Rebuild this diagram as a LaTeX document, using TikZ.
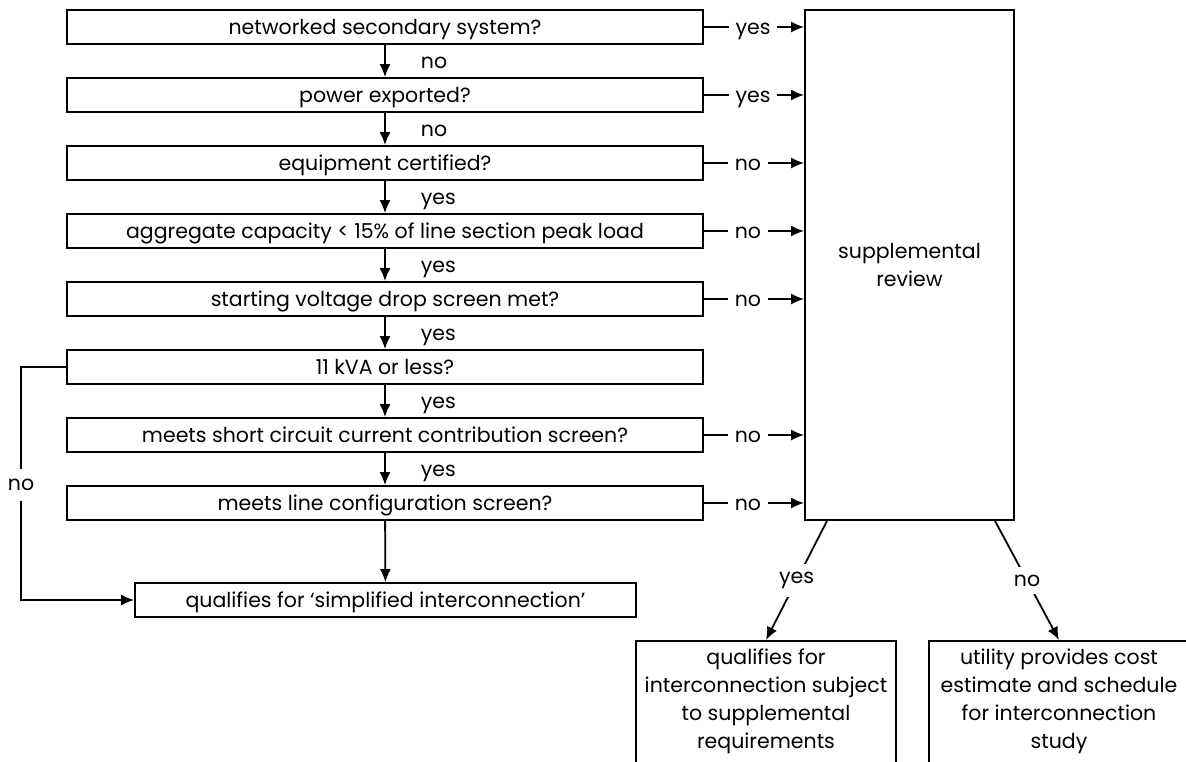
\documentclass[tikz,border=0pt]{standalone}
\usepackage{fontspec}
\setmainfont{Poppins}
\usetikzlibrary{arrows.meta}
\newcommand{\fs}{\fontsize{20.5}{28}\selectfont}
\begin{document}
\begin{tikzpicture}[x=1pt,y=-1pt,
  qbox/.style={draw, line width=1.8pt, minimum width=636pt, minimum height=34pt, inner sep=0pt, font=\fs, text height=17pt, text depth=3pt},
  sbox/.style={draw, line width=1.8pt, inner sep=0pt, font=\fs, align=center},
  arr/.style={line width=1.8pt, -{Latex[length=13pt,width=11pt]}},
  lab/.style={fill=white, inner xsep=7pt, inner ysep=3pt, font=\fs, text height=17pt, text depth=3pt},
  dlab/.style={fill=white, inner xsep=2pt, font=\fs},
  vlab/.style={font=\fs, inner sep=0pt, anchor=west, xshift=35pt, text height=17pt, text depth=3pt},
  txt/.style={font=\fs, align=center, inner sep=0pt}]
\clip (0,0) rectangle (1186,761);
\fill[white] (0,0) rectangle (1186,761);
% main question boxes
\node[qbox] (b1) at (385,27) {networked secondary system?};
\node[qbox] (b2) at (385,95) {power exported?};
\node[qbox] (b3) at (385,163) {equipment certified?};
\node[qbox] (b4) at (385,231) {aggregate capacity < 15\% of line section peak load};
\node[qbox] (b5) at (385,299) {starting voltage drop screen met?};
\node[qbox] (b6) at (385,367) {11 kVA or less?};
\node[qbox] (b7) at (385,435) {meets short circuit current contribution screen?};
\node[qbox] (b8) at (385,503) {meets line configuration screen?};
\node[qbox, minimum width=501pt] (fin) at (385.5,600) {qualifies for ‘simplified interconnection’};
% supplemental review
\node[sbox, minimum width=209pt, minimum height=510pt] (sup) at (909.5,265) {supplemental\\review};
% bottom boxes (open at bottom)
\node[draw, line width=1.8pt, anchor=north, minimum width=260pt, minimum height=160pt] (lb) at (766,640) {};
\node[draw, line width=1.8pt, anchor=north, minimum width=260pt, minimum height=160pt] (rb) at (1059,640) {};
\node[txt, anchor=north] (lbt) at (766,649) {qualifies for\\interconnection subject\\to supplemental\\requirements};
\node[txt, anchor=north] (rbt) at (1059,649) {utility provides cost\\estimate and schedule\\for interconnection\\study};
% vertical flow
\draw[arr] (b1) -- (b2) node[midway, vlab] {no};
\draw[arr] (b2) -- (b3) node[midway, vlab] {no};
\draw[arr] (b3) -- (b4) node[midway, vlab] {yes};
\draw[arr] (b4) -- (b5) node[midway, vlab] {yes};
\draw[arr] (b5) -- (b6) node[midway, vlab] {yes};
\draw[arr] (b6) -- (b7) node[midway, vlab] {yes};
\draw[arr] (b7) -- (b8) node[midway, vlab] {yes};
\draw[arr] (b8) -- (fin);
% no path from 11 kVA
\draw[arr] (b6.west) -- ++(-45,0) |- node[pos=0.253, dlab, inner ysep=10pt] {no} (fin.west);
% to supplemental review
\draw[arr] (b1.east) -- (b1.east -| sup.west) node[lab, pos=0.49] {yes};
\draw[arr] (b2.east) -- (b2.east -| sup.west) node[lab, pos=0.49] {yes};
\draw[arr] (b3.east) -- (b3.east -| sup.west) node[lab, pos=0.44] {no};
\draw[arr] (b4.east) -- (b4.east -| sup.west) node[lab, pos=0.44] {no};
\draw[arr] (b5.east) -- (b5.east -| sup.west) node[lab, pos=0.44] {no};
\draw[arr] (b7.east) -- (b7.east -| sup.west) node[lab, pos=0.44] {no};
\draw[arr] (b8.east) -- (b8.east -| sup.west) node[lab, pos=0.44] {no};
% outcomes of supplemental review
\draw[arr] ([xshift=-82.5pt]sup.south) -- (lb.north) node[dlab, midway, inner ysep=8pt] {yes};
\draw[arr] ([xshift=85.5pt]sup.south) -- (rb.north) node[dlab, midway, inner ysep=8pt] {no};
\end{tikzpicture}
\end{document}
